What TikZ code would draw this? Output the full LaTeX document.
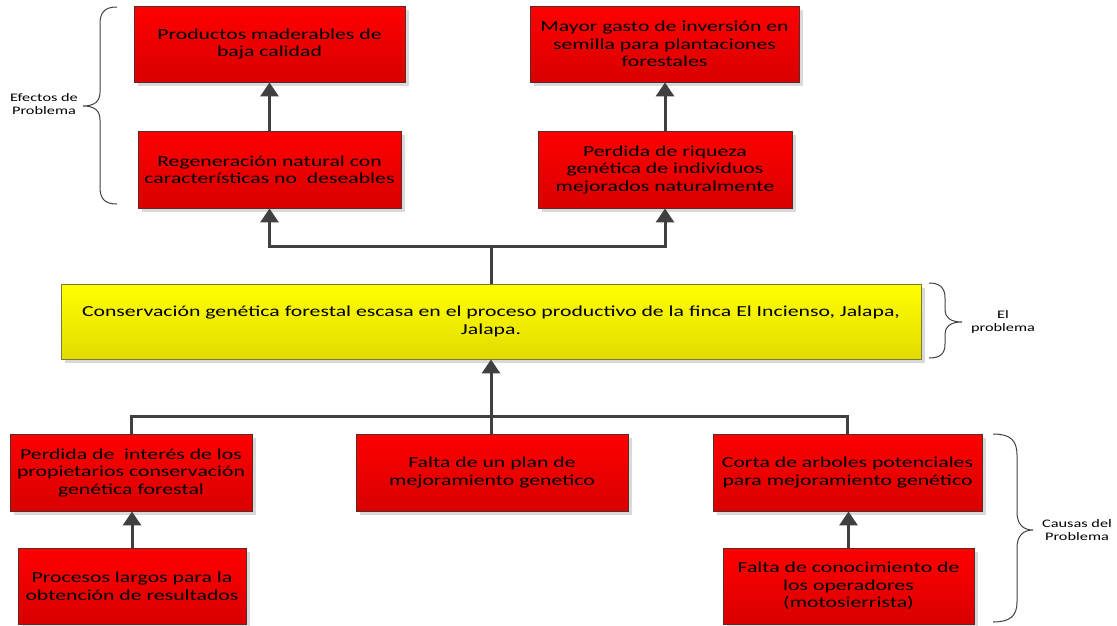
\documentclass[tikz,border=0pt]{standalone}
\usepackage{fontspec}
\setmainfont{Carlito}[FakeStretch=1.42]
\usetikzlibrary{arrows.meta,shadows}
\definecolor{linegray}{HTML}{404040}
\definecolor{redtop}{HTML}{FF0000}
\definecolor{redbot}{HTML}{D80000}
\definecolor{rededge}{HTML}{5C2A2A}
\definecolor{yeltop}{HTML}{FFFF00}
\definecolor{yelbot}{HTML}{E2DC00}
\definecolor{yeledge}{HTML}{7A7A3A}
\tikzset{
  basebox/.style={align=center, inner sep=2pt, line width=0.9pt,
    font=\fontsize{15.3}{17.5}\selectfont,
    drop shadow={shadow xshift=4pt, shadow yshift=-4pt, fill=black!15, opacity=1}},
  redbox/.style={basebox, draw=rededge, top color=redtop, bottom color=redbot},
  yelbox/.style={basebox, draw=yeledge, top color=yeltop, bottom color=yelbot},
  link/.style={draw=linegray, line width=3pt},
  linkarrow/.style={link, -{Triangle[width=18pt,length=14pt]}},
  bracepath/.style={draw=linegray, line width=1pt},
  sidelabel/.style={align=center, font=\fontsize{11.5}{12.5}\selectfont}
}
\begin{document}
\begin{tikzpicture}[x=1pt,y=-1pt]
\useasboundingbox (0,0) rectangle (1117,625);

% effects
\node[redbox, minimum width=271pt, minimum height=76pt] (e1) at (269.5,44)
  {Productos maderables de\\baja calidad};
\node[redbox, minimum width=263pt, minimum height=77pt] (e2) at (269.5,169.5)
  {Regeneración natural con\\características no\ \ deseables};
\node[redbox, minimum width=269pt, minimum height=76pt] (e3) at (664.5,44)
  {Mayor gasto de inversión en\\semilla para plantaciones\\forestales};
\node[redbox, minimum width=254pt, minimum height=77pt] (e4) at (665,169.5)
  {Perdida de riqueza\\genética de individuos\\mejorados naturalmente};

% central problem
\node[yelbox, minimum width=860pt, minimum height=75pt] (p) at (491,321.5)
  {Conservación genética forestal escasa en el proceso productivo de la finca El Incienso, Jalapa,\\Jalapa.};

% causes
\node[redbox, minimum width=242pt, minimum height=77pt] (c1) at (131,472.5)
  {Perdida de\ \ interés de los\\propietarios conservación\\genética forestal};
\node[redbox, minimum width=272pt, minimum height=77pt] (c2) at (492,472.5)
  {Falta de un plan de\\mejoramiento genetico};
\node[redbox, minimum width=269pt, minimum height=77pt] (c3) at (847.5,472.5)
  {Corta de arboles potenciales\\para mejoramiento genético};
\node[redbox, minimum width=228pt, minimum height=76pt] (c4) at (132,586)
  {Procesos largos para la\\obtención de resultados};
\node[redbox, minimum width=251pt, minimum height=76pt] (c5) at (848.5,586)
  {Falta de conocimiento de\\los operadores\\(motosierrista)};

% connectors
\coordinate (tj) at (491,246);
\coordinate (bj) at (491,416);
\draw[link] (p.north) -- (tj);
\draw[linkarrow] (tj) -| (e2.south);
\draw[linkarrow] (tj) -| (e4.south);
\draw[linkarrow] (e2.north) -- (e2.north |- e1.south);
\draw[linkarrow] (e4.north) -- (e4.north |- e3.south);

\draw[link] (c1.north) |- (bj) -| (c3.north);
\draw[linkarrow] (c2.north -| p.south) -- (p.south);
\draw[linkarrow] (c4.north) -- (c4.north |- c1.south);
\draw[linkarrow] (c5.north) -- (c5.north |- c3.south);

% braces
\draw[bracepath] (117,7) .. controls (105,7) and (100,12) .. (100,24) -- (100,92)
  .. controls (100,101) and (95,106) .. (83,106)
  .. controls (95,106) and (100,111) .. (100,120) -- (100,187)
  .. controls (100,199) and (105,204) .. (117,204);
\node[sidelabel] (lefx) at (44,104) {Efectos de\\Problema};

\draw[bracepath] (929,283) .. controls (940,283) and (945,288) .. (945,298) -- (945,310)
  .. controls (945,317) and (950,322) .. (962,322)
  .. controls (950,322) and (945,327) .. (945,334) -- (945,344)
  .. controls (945,354) and (940,358) .. (929,358);
\node[sidelabel] (lprob) at (1003,322) {El\\problema};

\draw[bracepath] (993,434) .. controls (1010,434) and (1017,440) .. (1017,455) -- (1017,512)
  .. controls (1017,523) and (1022,530) .. (1033,530)
  .. controls (1022,530) and (1017,537) .. (1017,548) -- (1017,602)
  .. controls (1017,616) and (1010,622) .. (993,622);
\node[sidelabel] (lcaus) at (1077,530) {Causas del\\Problema};
\end{tikzpicture}
\end{document}
